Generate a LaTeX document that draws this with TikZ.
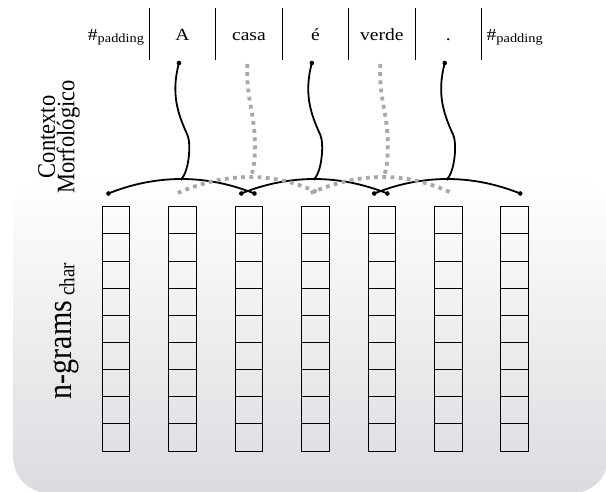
\documentclass[tikz,border=0pt]{standalone}
\usepackage{graphicx}
\usepackage{fontspec}
\setmainfont{Liberation Serif}
\definecolor{panelbottom}{RGB}{219,220,224}
\definecolor{dotgray}{RGB}{168,168,168}
\tikzset{
  word/.style={inner sep=0pt, anchor=base, font=\fontsize{17}{17}\selectfont},
  cell/.style={draw=black, line width=0.9pt, minimum width=27.6pt, minimum height=27.15pt, inner sep=0pt, outer sep=0pt},
  sepline/.style={line width=1pt},
  strand/.style={line width=1.8pt, line cap=round},
  dotstrand/.style={dotgray, line width=3.8pt, dash pattern=on 3.8pt off 4.4pt},
  sidelabel/.style={rotate=90, inner sep=0pt, transform shape},
}
% words are set slightly wide
\newcommand{\wide}[1]{\scalebox{1.15}[1]{#1}}
\newcommand{\padword}{\wide{\#\raisebox{-2pt}{\fontsize{12.5}{12.5}\selectfont padding}}}
\begin{document}
\begin{tikzpicture}[x=1pt,y=-1pt]
\useasboundingbox (0,0) rectangle (606,491);

% shaded panel behind the n-gram columns
\shade[top color=white, bottom color=panelbottom, rounded corners=35pt]
  (13.5,176) rectangle (608,493);

% token row
\node[word] (w1) at (116,40.5) {\padword};
\node[word] (w2) at (182.45,40.5) {\wide{A}};
\node[word] (w3) at (248.9,40.5) {\wide{casa}};
\node[word] (w4) at (315.35,40.5) {\wide{é}};
\node[word] (w5) at (381.8,40.5) {\wide{verde}};
\node[word] (w6) at (448.25,40.5) {\wide{.}};
\node[word] (w7) at (514.7,40.5) {\padword};
\foreach \k in {1,...,6} {
  \draw[sepline] ({116+66.45*(\k-0.5)},8) -- ({116+66.45*(\k-0.5)},60);
}

% character n-gram columns
\foreach \k in {1,...,7} {
  \foreach \r in {1,...,9} {
    \node[cell] (c\k-\r) at ({116+66.45*(\k-1)},{206.7+27.15*(\r-0.5)}) {};
  }
}

% morphological context: solid strands
\foreach \k in {2,4,6} {
  \pgfmathsetmacro{\x}{116+66.45*(\k-1)}
  \coordinate (top-\k) at (\x-3.5,63);
  \coordinate (peak-\k) at (\x-1,179);
  \coordinate (left-\k) at (\x-74,193.5);
  \coordinate (right-\k) at (\x+72,193.5);
  \draw[strand] (top-\k) .. controls (\x-12,95) and (\x-4,115) .. (\x+5,135)
    .. controls (\x+8.6,143) and (\x+7,170) .. (peak-\k);
  \draw[strand] (left-\k) .. controls (\x-50.3,183.8) and (\x-25.3,179) .. (peak-\k)
    .. controls (\x+23.3,179) and (\x+47.7,183.8) .. (right-\k);
  \fill (top-\k) circle (2.3);
  \fill (peak-\k) circle (1.6);
  \fill (left-\k) circle (2.3);
  \fill (right-\k) circle (2.3);
}

% morphological context: dotted strands
\foreach \k in {3,5} {
  \pgfmathsetmacro{\x}{116+66.45*(\k-1)}
  \coordinate (top-\k) at (\x-1.5,64);
  \coordinate (peak-\k) at (\x+1.5,177);
  \coordinate (left-\k) at (\x-71,193);
  \coordinate (right-\k) at (\x+70,193);
  \draw[dotstrand] (top-\k) .. controls (\x-3,100) and (\x+6,112) .. (\x+6,145)
    .. controls (\x+6,165) and (\x+4,172) .. (peak-\k);
  \draw[dotstrand] (left-\k) .. controls (\x-46.8,182.3) and (\x-22.7,177) .. (peak-\k)
    .. controls (\x+24.3,177) and (\x+47.2,182.3) .. (right-\k);
}

% side labels, widened across the text direction
\begin{scope}[shift={(59,137)}, xscale=1.12]
  \node[sidelabel, align=center, font=\fontsize{22.5}{17.5}\selectfont] (ctx) at (0,0)
    {Contexto\\Morfológico};
\end{scope}
\begin{scope}[shift={(71,331)}, xscale=1.15]
  \node[sidelabel, anchor=base] (ngr) at (0,0)
    {\fontsize{30}{30}\selectfont n-grams\,\raisebox{-3pt}{\fontsize{19}{19}\selectfont char}};
\end{scope}
\end{tikzpicture}
\end{document}
